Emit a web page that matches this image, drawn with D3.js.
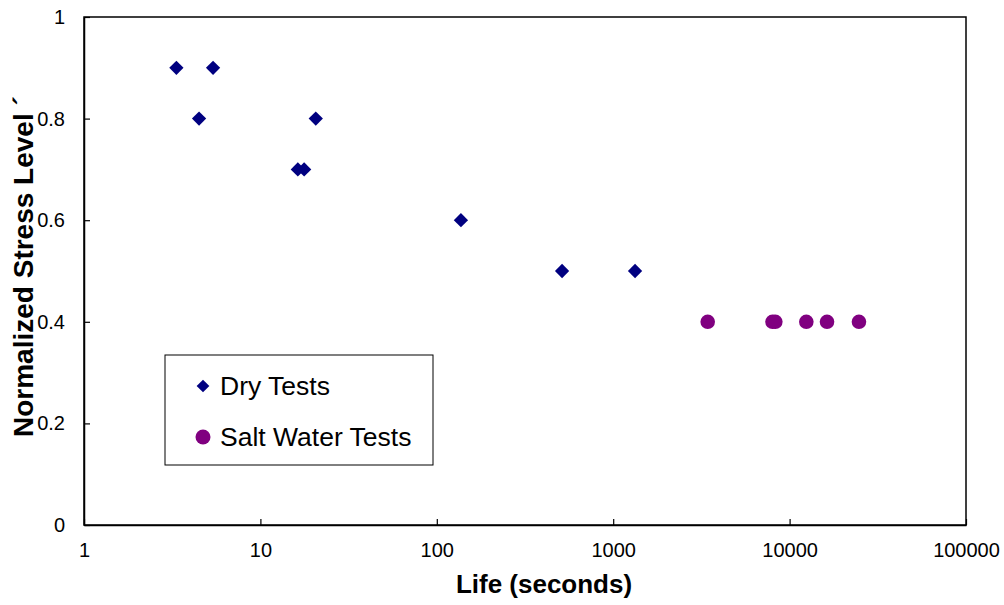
<!DOCTYPE html>
<head>
  <meta charset="utf-8">
  <script src="https://cdnjs.cloudflare.com/ajax/libs/d3/7.8.5/d3.min.js"></script>
  <style>
    body { margin:0; background:#fff; }
    text { font-family: Arial, "Liberation Sans", sans-serif; }
  </style>
</head>
<body>
  <div id="vis"></div>
  <script>
    // dry tests: life (s) and normalized stress
    var dryLife   = [3.34, 5.39, 4.49, 20.6, 16.3, 17.7, 137, 513, 1330];
    var dryStress = [0.9, 0.9, 0.8, 0.8, 0.7, 0.7, 0.6, 0.5, 0.5];
    // salt water tests
    var saltLife   = [3434, 8000, 8300, 12440, 16300, 24730];
    var saltStress = [0.4, 0.4, 0.4, 0.4, 0.4, 0.4];
    var xTicks = [1, 10, 100, 1000, 10000, 100000];
    var yTicks = [0, 0.2, 0.4, 0.6, 0.8, 1];

    var width = 1004, height = 605;
    var m = {left: 84, right: 38, top: 17, bottom: 80};

    var svg = d3.select("#vis").append("svg")
      .attr("width", width)
      .attr("height", height);

    var x = d3.scaleLog().domain([1, 100000]).range([m.left, width - m.right]);
    var y = d3.scaleLinear().domain([0, 1]).range([height - m.bottom, m.top]);

    // frame
    svg.append("rect")
      .attr("x", x(1)).attr("y", y(1))
      .attr("width", x(100000) - x(1)).attr("height", y(0) - y(1))
      .style("fill", "none").style("stroke", "#000").style("stroke-width", 1.5);

    var xAxis = svg.append("g")
      .attr("transform", "translate(0," + y(0) + ")")
      .call(d3.axisBottom(x).tickValues(xTicks).tickSizeInner(-6).tickSizeOuter(0).tickPadding(18)
        .tickFormat(d3.format("d")));
    var yAxis = svg.append("g")
      .attr("transform", "translate(" + x(1) + ",0)")
      .call(d3.axisLeft(y).tickValues(yTicks).tickSizeInner(-6).tickSizeOuter(0).tickPadding(19)
        .tickFormat(function(d) { return d == 0 || d == 1 ? d : d.toFixed(1); }));
    [xAxis, yAxis].forEach(function(g) {
      g.select(".domain").style("stroke", "#000").style("stroke-width", 1.5);
      g.selectAll(".tick line").style("stroke", "#000").style("stroke-width", 1.2);
      g.selectAll(".tick text").style("font-size", "20px").style("fill", "#000")
        .style("font-family", "Arial, 'Liberation Sans', sans-serif");
    });

    var diamond = d3.symbol().type(d3.symbolSquare).size(102);

    svg.selectAll(".dry").data(dryLife).enter().append("path")
      .attr("class", "dry")
      .attr("d", diamond)
      .attr("transform", function(d, i) { return "translate(" + x(d) + "," + y(dryStress[i]) + ") rotate(45)"; })
      .style("fill", "#000080");

    svg.selectAll(".salt").data(saltLife).enter().append("circle")
      .attr("class", "salt")
      .attr("cx", function(d) { return x(d); })
      .attr("cy", function(d, i) { return y(saltStress[i]); })
      .attr("r", 7.3)
      .style("fill", "#800080");

    // legend
    var lg = svg.append("g");
    lg.append("rect").attr("x", 165).attr("y", 355).attr("width", 268).attr("height", 110)
      .style("fill", "#fff").style("stroke", "#000").style("stroke-width", 1);
    lg.append("path").attr("d", d3.symbol().type(d3.symbolSquare).size(81))
      .attr("transform", "translate(203,386) rotate(45)").style("fill", "#000080");
    lg.append("circle").attr("cx", 203).attr("cy", 437).attr("r", 7.5).style("fill", "#800080");
    lg.append("text").attr("x", 220).attr("y", 395).text("Dry Tests")
      .style("font-size", "26.5px");
    lg.append("text").attr("x", 220).attr("y", 446).text("Salt Water Tests")
      .style("font-size", "26.5px");

    // axis titles
    svg.append("text")
      .attr("x", 544).attr("y", 593)
      .attr("text-anchor", "middle")
      .style("font-size", "26px").style("font-weight", "bold")
      .text("Life (seconds)");
    svg.append("text")
      .attr("transform", "translate(33,437) rotate(-90)")
      .attr("text-anchor", "start")
      .style("font-size", "28px").style("font-weight", "bold")
      .text("Normalized Stress Level  \u00B4");
  </script>
</body>
